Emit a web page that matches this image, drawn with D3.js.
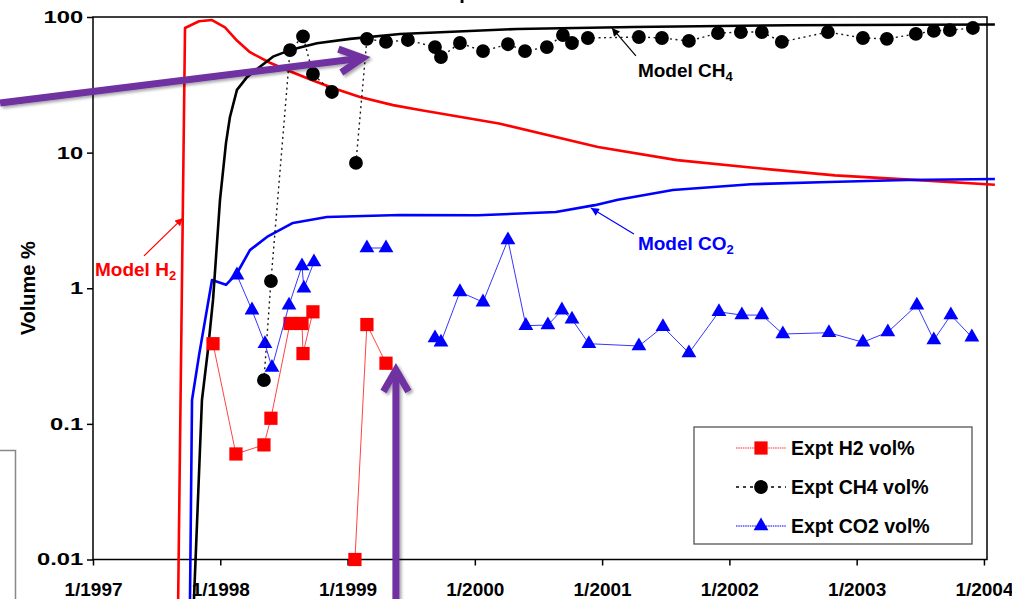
<!DOCTYPE html>
<html><head><meta charset="utf-8">
<script src="https://cdn.jsdelivr.net/npm/d3@7"></script>
<style>
html,body{margin:0;padding:0;background:#fff;}
svg{display:block;}
text{font-family:"Liberation Sans",Arial,Helvetica,sans-serif;font-weight:bold;}
</style></head><body>
<svg id="chart" width="1012" height="599"></svg>
<script>
// ---------- DATA (decimal years, volume %) ----------
const modelH2Years = [1997.66,1997.723,1997.833,1997.935,1998.037,1998.131,1998.233,1998.39,1998.571,1998.728,1998.885,1999.097,1999.357,1999.569,2000.19,2000.967,2001.588,2002.208,2002.829,2003.449,2004.086];
const modelH2Values = [0.001,83,93,95,84,67,55,46,39,34,30,25.7,22.4,20.6,16.4,11.0,8.8,7.7,6.8,6.3,5.8];

const modelCH4Years = [1997.762,1997.793,1997.856,1997.903,1997.943,1997.998,1998.045,1998.076,1998.131,1998.21,1998.312,1998.414,1998.548,1998.76,1999.019,1999.412,2000.331,2001.25,2002.475,2004.086];
const modelCH4Values = [0.001,0.005,0.15,0.35,0.82,4.5,11.8,18.3,29,36,43,51,57,64,69,75,81.6,84.4,87,88];

const modelCO2Years = [1997.754,1997.762,1997.778,1997.833,1997.935,1998.045,1998.131,1998.233,1998.367,1998.571,1998.838,1999.412,2000.024,2000.637,2000.943,2001.124,2001.556,2002.169,2002.782,2003.394,2004.086];
const modelCO2Values = [0.001,0.005,0.15,0.32,1.15,1.06,1.29,1.91,2.39,3.03,3.35,3.47,3.45,3.65,4.1,4.5,5.3,5.85,6.07,6.28,6.39];

// null = break in the measured series
const exptH2Years = [1997.943,1998.123,1998.343,1998.398,1998.548,1998.642,1998.65,1998.728,1998.9,1999.058,1999.152,1999.302];
const exptH2Values = [0.39,0.06,0.07,0.11,0.55,0.55,0.33,0.67,null,0.01,0.54,0.28];

const exptCH4Years = [1998.343,1998.398,1998.548,1998.65,1998.728,1998.877,1998.97,1999.066,1999.152,1999.302,1999.474,1999.687,1999.734,1999.883,2000.064,2000.26,2000.394,2000.566,2000.692,2000.763,2000.888,2001.289,2001.47,2001.682,2001.91,2002.09,2002.255,2002.412,2002.774,2003.049,2003.237,2003.465,2003.606,2003.732,2003.913];
const exptCH4Values = [0.21,1.13,57,72,38,28,null,8.4,69,65.5,67.7,60,50.7,64.3,56,63,56,60,73.6,64.3,70,71.2,70,66.6,76,77.5,77.5,65.5,77.5,70,69,75,79,80,83];

const exptCO2Years = [1998.131,1998.249,1998.351,1998.406,1998.54,1998.642,1998.657,1998.736,1998.95,1999.152,1999.302,1999.5,1999.687,1999.734,1999.883,2000.064,2000.26,2000.401,2000.574,2000.684,2000.763,2000.896,2001.289,2001.478,2001.682,2001.918,2002.098,2002.255,2002.42,2002.782,2003.049,2003.245,2003.473,2003.606,2003.74,2003.905];
const exptCO2Values = [1.25,0.69,0.39,0.26,0.75,1.46,1.0,1.56,null,1.98,1.98,null,0.43,0.40,0.94,0.79,2.27,0.53,0.535,0.69,0.59,0.39,0.375,0.52,0.333,0.67,0.634,0.634,0.46,0.47,0.40,0.475,0.75,0.415,0.634,0.436];

const xTicks = [1997,1998,1999,2000,2001,2002,2003,2004];
const xTickLabels = ["1/1997","1/1998","1/1999","1/2000","1/2001","1/2002","1/2003","1/2004"];
const yTicks = [0.01,0.1,1,10,100];
const yTickLabels = ["0.01","0.1","1","10","100"];
const legendLabels = ["Expt H2 vol%","Expt CH4 vol%","Expt CO2 vol%"];
const yAxisTitle = "Volume %";
const chartTitle = "Gas production";

// ---------- LAYOUT ----------
const plot = {left:93, right:987, top:17, bottom:559.5};
const svg = d3.select("#chart");
const x = d3.scaleLinear().domain([1997, 2004.024]).range([plot.left, plot.right]);
const y = d3.scaleLog().domain([0.01, 100]).range([plot.bottom, plot.top]);

const zip = (ts, vs) => ts.map((t,i)=>({t, v: vs[i]}));
const line = d3.line().defined(d => d.v != null).x(d => x(d.t)).y(d => y(d.v));

const defs = svg.append("defs");
["#000000","#ff0000","#0000ff"].forEach((c,i)=>{
  defs.append("marker").attr("id","ah"+i).attr("viewBox","0 0 10 10")
    .attr("refX",10).attr("refY",5).attr("markerWidth",9).attr("markerHeight",8)
    .attr("markerUnits","userSpaceOnUse").attr("orient","auto")
    .append("path").attr("d","M0,0L10,5L0,10z").attr("fill",c);
});
const f = defs.append("filter").attr("id","shadow").attr("x","-20%").attr("y","-20%").attr("width","140%").attr("height","140%");
f.append("feDropShadow").attr("dx",2).attr("dy",2).attr("stdDeviation",1.5).attr("flood-color","#000").attr("flood-opacity",0.35);

// title: lies almost entirely above the visible area (only a descender shows)
svg.append("text").attr("x",416).attr("y",-0.8).attr("text-anchor","start")
  .attr("font-size",20).attr("fill","#000").text(chartTitle);

// ---------- AXES ----------
const xAxis = d3.axisBottom(x).tickValues(xTicks).tickFormat((d,i)=>xTickLabels[i]).tickSize(6).tickPadding(17);
svg.append("g").attr("transform",`translate(0,${plot.bottom})`).call(xAxis)
  .call(g=>g.select(".domain").remove())
  .call(g=>g.selectAll("line").attr("stroke","#000").attr("stroke-width",1.5))
  .call(g=>g.selectAll("text").attr("font-size",19).attr("fill","#000"));

const yAxis = d3.axisLeft(y).tickValues(yTicks).tickFormat((d,i)=>yTickLabels[i]).tickSize(6).tickPadding(0);
svg.append("g").attr("transform",`translate(${plot.left},0)`).call(yAxis)
  .call(g=>g.select(".domain").remove())
  .call(g=>g.selectAll("line").attr("stroke","#000").attr("stroke-width",1.5))
  .call(g=>g.selectAll("text").attr("font-size",17).attr("fill","#000").attr("x",-7).attr("transform","scale(1.4,1)"));

svg.append("text").attr("transform",`translate(35,${(plot.top+plot.bottom)/2}) rotate(-90)`)
  .attr("text-anchor","middle").attr("font-size",20).attr("fill","#000").text(yAxisTitle);

// plot frame
svg.append("rect").attr("x",plot.left).attr("y",plot.top).attr("width",plot.right-plot.left).attr("height",plot.bottom-plot.top)
  .attr("fill","none").attr("stroke","#000").attr("stroke-width",1.5);

// ---------- MODEL LINES ----------
const models = [
  {d: zip(modelH2Years, modelH2Values), c:"#ff0000"},
  {d: zip(modelCO2Years, modelCO2Values), c:"#0000ff"},
  {d: zip(modelCH4Years, modelCH4Values), c:"#000000"}
];
models.forEach(m=>{
  svg.append("path").datum(m.d).attr("d",line).attr("fill","none")
    .attr("stroke",m.c).attr("stroke-width",2.6).attr("stroke-linejoin","round");
});

// ---------- EXPERIMENTAL SERIES ----------
const sqr = d3.symbol().type(d3.symbolSquare).size(175);
const cir = d3.symbol().type(d3.symbolCircle).size(150);
const tri = d3.symbol().type(d3.symbolTriangle).size(95);
const expts = [
  {d: zip(exptH2Years, exptH2Values), c:"#ff0000", lc:"#ff3030", lw:1, dash:null, sym:sqr},
  {d: zip(exptCO2Years, exptCO2Values), c:"#0000ff", lc:"#2020ff", lw:1, dash:null, sym:tri},
  {d: zip(exptCH4Years, exptCH4Values), c:"#000000", lc:"#000000", lw:1.4, dash:"2,3.5", sym:cir}
];
expts.forEach(s=>{
  svg.append("path").datum(s.d).attr("d",line).attr("fill","none")
    .attr("stroke",s.lc).attr("stroke-width",s.lw).attr("stroke-dasharray",s.dash).attr("opacity",0.9);
  svg.append("g").selectAll("path").data(s.d.filter(d=>d.v!=null)).join("path")
    .attr("d",s.sym).attr("transform",d=>`translate(${x(d.t)},${y(d.v)})`).attr("fill",s.c);
});

// ---------- MODEL ANNOTATIONS ----------
const annotations = [
  {name:"Model H", sub:"2", color:"#ff0000", m:1, tip:[1997.707,3.3], tail:[-39,38], label:[-88,58]},
  {name:"Model CH", sub:"4", color:"#000000", m:0, tip:[2001.077,83], tail:[24,28], label:[26,49]},
  {name:"Model CO", sub:"2", color:"#0000ff", m:2, tip:[2000.912,3.9], tail:[43,26], label:[47,42]}
];
annotations.forEach(a=>{
  const tx = x(a.tip[0]), ty = y(a.tip[1]);
  svg.append("line").attr("x1",tx+a.tail[0]).attr("y1",ty+a.tail[1]).attr("x2",tx).attr("y2",ty)
    .attr("stroke",a.color).attr("stroke-width",1.2).attr("marker-end",`url(#ah${a.m})`);
  const t = svg.append("text").attr("x",tx+a.label[0]).attr("y",ty+a.label[1]).attr("font-size",19).attr("fill",a.color);
  t.append("tspan").text(a.name);
  t.append("tspan").attr("font-size",13).attr("dy",4).text(a.sub);
});

// ---------- LEGEND ----------
const lg = svg.append("g").attr("transform","translate(694,427)");
lg.append("rect").attr("width",278).attr("height",117).attr("fill","#fff").attr("stroke","#555").attr("stroke-width",1.3);
const legendSyms = [
  {c:"#ff0000", lc:"#ff7070", dash:"1.5,0.8", lw:1.5, sym:sqr},
  {c:"#000000", lc:"#000000", dash:"3,4", lw:1.6, sym:cir},
  {c:"#0000ff", lc:"#5050ff", dash:"1.5,0.8", lw:1.5, sym:tri}
];
legendLabels.forEach((lab,i)=>{
  const ry = 21 + i*39;
  const s = legendSyms[i];
  lg.append("line").attr("x1",42).attr("x2",92).attr("y1",ry).attr("y2",ry)
    .attr("stroke",s.lc).attr("stroke-width",s.lw).attr("stroke-dasharray",s.dash);
  lg.append("path").attr("d",s.sym).attr("transform",`translate(67,${ry})`).attr("fill",s.c);
  lg.append("text").attr("x",97).attr("y",ry+7).attr("font-size",19.5).attr("fill","#000").text(lab);
});

// ---------- OVERLAY POINTER ARROWS (purple) ----------
const pointers = [
  {from:[1996.27,23.2], to:[1999.12,49.9], arm:26, ang:27},
  {from:[1999.38,0.0036], to:[1999.38,0.25], arm:25, ang:30}
];
const pg = svg.append("g").attr("filter","url(#shadow)");
pointers.forEach(p=>{
  const x0=x(p.from[0]), y0=y(p.from[1]), x1=x(p.to[0]), y1=y(p.to[1]);
  const back = Math.atan2(y0-y1, x0-x1);
  const a1 = back + p.ang*Math.PI/180, a2 = back - p.ang*Math.PI/180;
  pg.append("line").attr("x1",x0).attr("y1",y0).attr("x2",x1).attr("y2",y1)
    .attr("stroke","#7030a0").attr("stroke-width",7);
  pg.append("path").attr("d",`M${x1+p.arm*Math.cos(a1)},${y1+p.arm*Math.sin(a1)}L${x1},${y1}L${x1+p.arm*Math.cos(a2)},${y1+p.arm*Math.sin(a2)}`)
    .attr("fill","none").attr("stroke","#7030a0").attr("stroke-width",7).attr("stroke-linejoin","miter");
});

// partial grey frame at lower left (edge of another object)
svg.append("path").attr("d","M-5,450.5H15.5V610").attr("fill","none").attr("stroke","#888").attr("stroke-width",1.5);
</script>
</body></html>
